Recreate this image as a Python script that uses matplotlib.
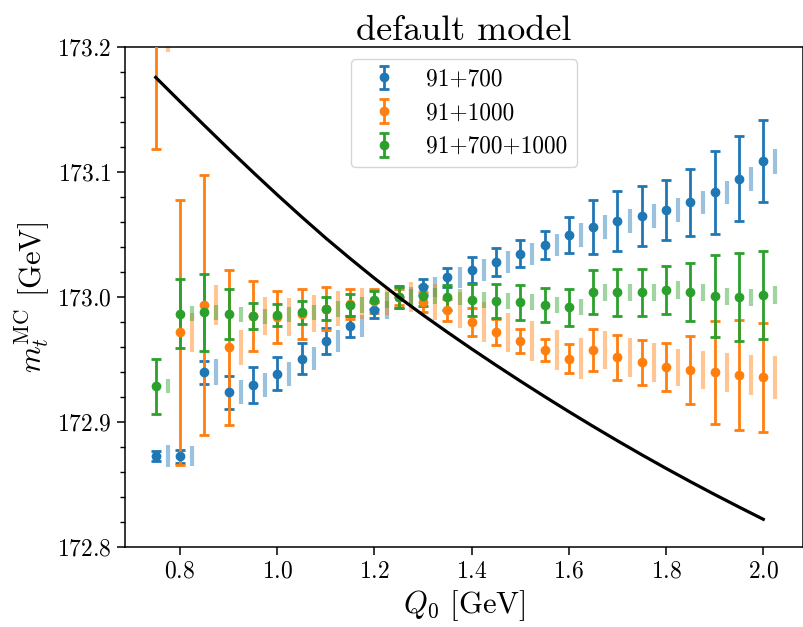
import matplotlib
matplotlib.use("Agg")
import matplotlib.pyplot as plt
from matplotlib.ticker import MultipleLocator

plt.rcParams['font.family'] = 'serif'
plt.rcParams['font.serif'] = ['cmr10']
plt.rcParams['mathtext.fontset'] = 'cm'
plt.rcParams['axes.formatter.use_mathtext'] = True
plt.rcParams['axes.unicode_minus'] = False

Q0 = [0.75, 0.80, 0.85, 0.90, 0.95, 1.00, 1.05, 1.10, 1.15, 1.20, 1.25, 1.30, 1.35,
      1.40, 1.45, 1.50, 1.55, 1.60, 1.65, 1.70, 1.75, 1.80, 1.85, 1.90, 1.95, 2.00]

# 91+700
m_700 = [172.873, 172.873, 172.940, 172.924, 172.930, 172.939, 172.951, 172.965, 172.977,
         172.990, 173.000, 173.0085, 173.016, 173.022, 173.0285, 173.035, 173.042, 173.050,
         173.0565, 173.061, 173.065, 173.070, 173.076, 173.084, 173.095, 173.109]
e_700 = [0.0038, 0.0052, 0.0092, 0.0134, 0.0142, 0.0134, 0.0124, 0.0106, 0.0084, 0.0066,
         0.0088, 0.0064, 0.0076, 0.0104, 0.0112, 0.0110, 0.0114, 0.0147, 0.0216, 0.0240,
         0.0239, 0.0240, 0.0271, 0.0334, 0.0339, 0.0327]
s_700 = [0.0088, 0.0080, 0.0104, 0.0096, 0.0096, 0.0096, 0.0094, 0.0088, 0.0086, 0.0072,
         0.0080, 0.0082, 0.0082, 0.0088, 0.0088, 0.0088, 0.0088, 0.0094, 0.0094, 0.0094,
         0.0094, 0.0094, 0.0094, 0.0094, 0.0096, 0.0100]

# 91+1000
m_1000 = [173.245, 172.972, 172.994, 172.960, 172.985, 172.9845, 172.987, 172.991, 172.995,
          172.997, 173.000, 172.9965, 172.990, 172.9805, 172.972, 172.965, 172.958, 172.951,
          172.958, 172.952, 172.948, 172.944, 172.942, 172.940, 172.938, 172.936]
e_1000 = [0.126, 0.106, 0.104, 0.062, 0.028, 0.021, 0.020, 0.017, 0.012, 0.0098,
          0.0064, 0.0080, 0.0090, 0.0110, 0.0104, 0.0094, 0.0090, 0.0114, 0.0171, 0.0179,
          0.0182, 0.0192, 0.0272, 0.0410, 0.0440, 0.0439]
s_1000 = [0.049, 0.0158, 0.0160, 0.0140, 0.0152, 0.0152, 0.0147, 0.0140, 0.0123, 0.0112,
          0.0120, 0.0144, 0.0144, 0.0160, 0.0156, 0.0160, 0.0160, 0.0164, 0.0155, 0.0155,
          0.0158, 0.0151, 0.0155, 0.0156, 0.0160, 0.0174]

# 91+700+1000
m_all = [172.929, 172.987, 172.988, 172.9866, 172.985, 172.986, 172.988, 172.991, 172.994,
         172.998, 173.000, 173.001, 173.000, 172.998, 172.997, 172.996, 172.994, 172.992,
         173.004, 173.004, 173.004, 173.006, 173.004, 173.001, 173.000, 173.002]
e_all = [0.0219, 0.0278, 0.0307, 0.0199, 0.0104, 0.0088, 0.0094, 0.0094, 0.0088, 0.0072,
         0.0084, 0.0080, 0.0100, 0.0128, 0.0134, 0.0139, 0.0139, 0.0150, 0.0176, 0.0190,
         0.0187, 0.0192, 0.0232, 0.0326, 0.0352, 0.0352]
s_all = [0.0054, 0.0062, 0.0060, 0.0060, 0.0060, 0.0060, 0.0062, 0.0064, 0.0064, 0.0064,
         0.0064, 0.0066, 0.0064, 0.0062, 0.0066, 0.0064, 0.0066, 0.0064, 0.0066, 0.0066,
         0.0066, 0.0070, 0.0068, 0.0068, 0.0070, 0.0070]

# black curve
curve = [173.1760, 173.1567, 173.1376, 173.1187, 173.1002, 173.0821, 173.0645, 173.0474,
         173.0311, 173.0153, 173.0002, 172.9859, 172.9722, 172.9588, 172.9458, 172.9331,
         172.9207, 172.9086, 172.8968, 172.8853, 172.8741, 172.8632, 172.8526, 172.8423,
         172.8323, 172.8225]

labels = ['91+700', '91+1000', '91+700+1000']
colors = ['#1f77b4', '#ff7f0e', '#2ca02c']
offset = 0.025

fig = plt.figure(figsize=(8.04, 6.27), dpi=100)
ax = fig.add_axes([125/804, (627-547.4)/627, 678/804, 500/627])

series = [(m_700, e_700, s_700), (m_1000, e_1000, s_1000), (m_all, e_all, s_all)]
xs = [q + offset for q in Q0]
for (m, e, s), c in zip(series, colors):
    ax.errorbar(xs, m, yerr=s, fmt='none', ecolor=c, elinewidth=3.0, alpha=0.45,
                capsize=0, zorder=1)
for (m, e, s), c, lab in zip(series, colors, labels):
    ax.errorbar(Q0, m, yerr=e, fmt='o', color=c, markersize=6, elinewidth=2.0,
                capsize=3.6, capthick=2.0, label=lab, zorder=3)

ax.plot(Q0, curve, color='black', lw=2.3, zorder=4, solid_joinstyle='round')

ax.set_xlim(0.6868, 2.0817)
ax.set_ylim(172.8, 173.2)
ax.yaxis.set_major_locator(MultipleLocator(0.1))
ax.yaxis.set_minor_locator(MultipleLocator(0.02))
ax.xaxis.set_major_locator(MultipleLocator(0.2))
ax.tick_params(axis='both', which='major', labelsize=17, length=6, width=1.1)
ax.tick_params(axis='y', which='minor', length=3.5, width=1.0)
for sp in ax.spines.values():
    sp.set_linewidth(1.1)

ax.set_xlabel(r'$Q_0$ [GeV]', fontsize=22)
ax.set_ylabel(r'$m_t^{\mathrm{MC}}$ [GeV]', fontsize=22)
ax.set_title('default model', fontsize=26, pad=5)
ax.legend(loc='upper center', fontsize=16.8)

fig.savefig('out.png', dpi=100)
